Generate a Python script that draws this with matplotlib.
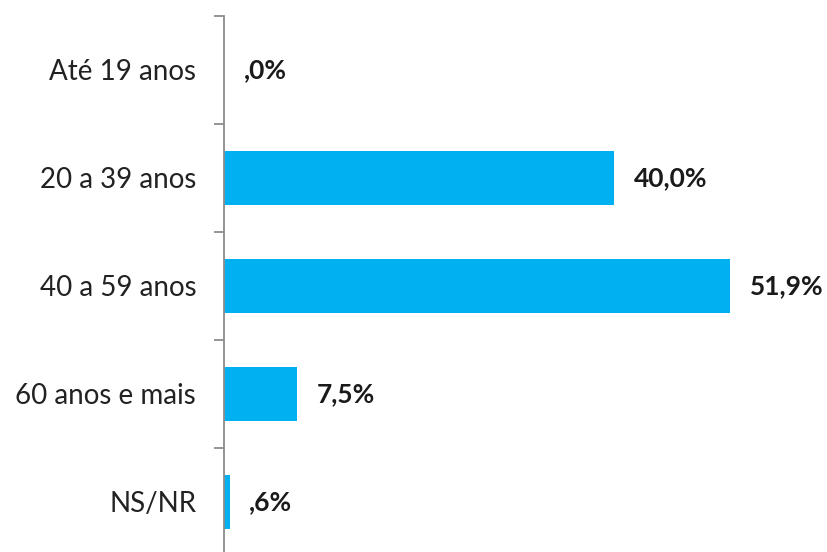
import numpy as np
import matplotlib
matplotlib.use("Agg")
import matplotlib.pyplot as plt
from matplotlib.ticker import FixedLocator

categories = ["Até 19 anos", "20 a 39 anos", "40 a 59 anos", "60 anos e mais", "NS/NR"]
values = [0.0, 40.0, 51.9, 7.5, 0.6]
value_labels = [",0%", "40,0%", "51,9%", "7,5%", ",6%"]

plt.rcParams["font.family"] = ["Lato", "DejaVu Sans"]

fig = plt.figure(figsize=(8.28, 5.52), dpi=100)
ax = fig.add_axes([224 / 828, -4 / 552, 604 / 828, 540 / 552])

y = np.arange(len(categories))
ax.barh(y, values, height=0.5, color="#00B0F0")

for yi, v, lab in zip(y, values, value_labels):
    ax.annotate(lab, (v, yi), xytext=(14, 0), textcoords="offset points",
                ha="left", va="center", fontsize=19, fontweight="bold",
                color="#1a1a1a")

ax.set_ylim(len(categories) - 0.5, -0.5)
ax.set_xlim(0, 61.95)

ax.set_yticks(y)
ax.set_yticklabels(categories, fontsize=20, color="#222222")
ax.yaxis.set_minor_locator(FixedLocator(np.arange(-0.5, len(categories), 1.0)))
ax.tick_params(axis="y", which="major", length=0, pad=20)
ax.tick_params(axis="y", which="minor", length=7, width=1.3, color="#8c8c8c")
ax.set_xticks([])

for s in ["top", "right", "bottom"]:
    ax.spines[s].set_visible(False)
ax.spines["left"].set_color("#8c8c8c")
ax.spines["left"].set_linewidth(1.3)

fig.savefig("out.png", dpi=100)
